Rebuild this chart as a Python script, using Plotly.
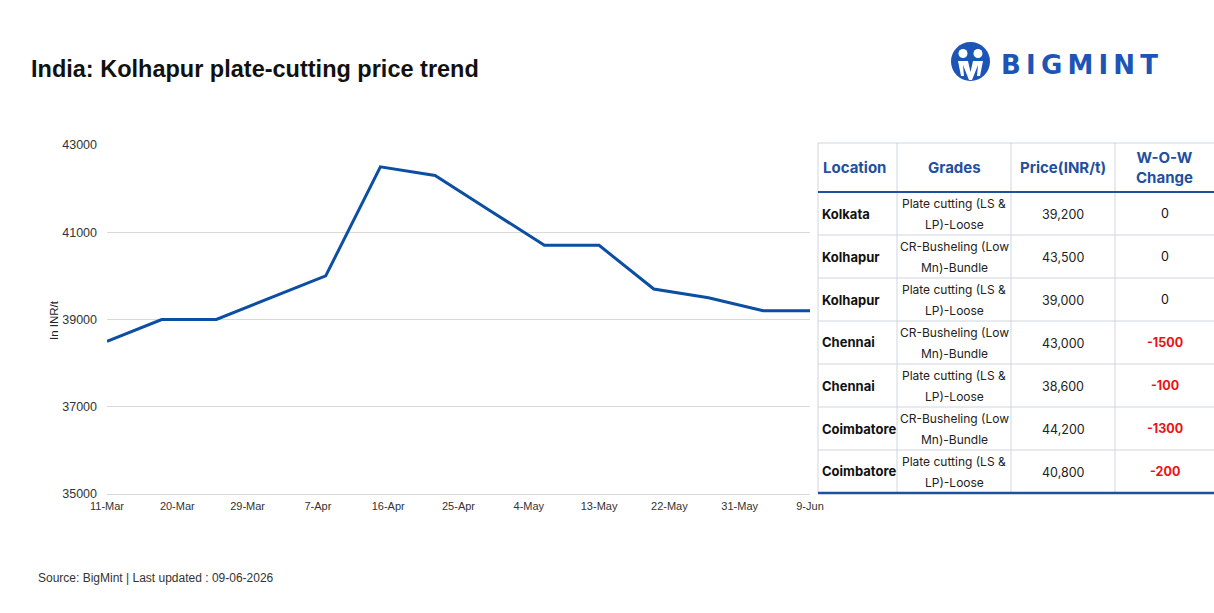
import plotly.graph_objects as go

# ---------------- data ----------------
dates = ["2026-03-11", "2026-03-18", "2026-03-25", "2026-04-01", "2026-04-08",
         "2026-04-15", "2026-04-22", "2026-04-29", "2026-05-06", "2026-05-13",
         "2026-05-20", "2026-05-27", "2026-06-03", "2026-06-09"]
prices = [38500, 39000, 39000, 39500, 40000, 42500, 42300, 41500, 40700, 40700,
          39700, 39500, 39200, 39200]

tick_dates = ["2026-03-11", "2026-03-20", "2026-03-29", "2026-04-07", "2026-04-16",
              "2026-04-25", "2026-05-04", "2026-05-13", "2026-05-22", "2026-05-31",
              "2026-06-09"]
tick_labels = ["11-Mar", "20-Mar", "29-Mar", "7-Apr", "16-Apr", "25-Apr",
               "4-May", "13-May", "22-May", "31-May", "9-Jun"]
y_ticks = [35000, 37000, 39000, 41000, 43000]

tbl_header = ["Location", "Grades", "Price(INR/t)", "W-O-W<br>Change"]
tbl_location = ["Kolkata", "Kolhapur", "Kolhapur", "Chennai", "Chennai",
                "Coimbatore", "Coimbatore"]
tbl_grades = [("Plate cutting (LS &", "LP)-Loose"),
              ("CR-Busheling (Low", "Mn)-Bundle"),
              ("Plate cutting (LS &", "LP)-Loose"),
              ("CR-Busheling (Low", "Mn)-Bundle"),
              ("Plate cutting (LS &", "LP)-Loose"),
              ("CR-Busheling (Low", "Mn)-Bundle"),
              ("Plate cutting (LS &", "LP)-Loose")]
tbl_price = ["39,200", "43,500", "39,000", "43,000", "38,600", "44,200", "40,800"]
tbl_change = [0, 0, 0, -1500, -100, -1300, -200]

# ---------------- layout helpers ----------------
W, H = 1214, 613
def px(x):
    return x / W
def py(y):
    return 1 - y / H

BLUE = "#0b4ea2"
HDR_BLUE = "#1f50a0"
FONT = "Liberation Sans, Arial, sans-serif"
TFONT = "Inter, Roboto, sans-serif"

fig = go.Figure()
fig.add_trace(go.Scatter(x=dates, y=prices, mode="lines",
                         line=dict(color=BLUE, width=3), hoverinfo="x+y",
                         showlegend=False))

annotations = []
shapes = []

# title
annotations.append(dict(x=px(29), y=py(69), xref="paper", yref="paper",
                        text="<b>India: Kolhapur plate-cutting price trend</b>",
                        showarrow=False, xanchor="left", yanchor="middle",
                        font=dict(family=FONT, size=23.5, color="#111111")))
# y axis title
annotations.append(dict(x=px(54), y=py(320), xref="paper", yref="paper",
                        text="In INR/t", textangle=-90, showarrow=False,
                        xanchor="center", yanchor="middle",
                        font=dict(family=FONT, size=11.5, color="#222222")))
# footer
annotations.append(dict(x=px(36), y=py(578), xref="paper", yref="paper",
                        text="Source: BigMint | Last updated : 09-06-2026",
                        showarrow=False, xanchor="left", yanchor="middle",
                        font=dict(family=FONT, size=12, color="#333333")))

# logo
LOGO = "#1c55b5"
shapes.append(dict(type="circle", xref="paper", yref="paper",
                   x0=px(951), x1=px(990), y0=py(81), y1=py(42),
                   fillcolor=LOGO, line=dict(width=0)))
for cx in (963, 978):
    shapes.append(dict(type="circle", xref="paper", yref="paper",
                       x0=px(cx - 4.5), x1=px(cx + 4.5), y0=py(58), y1=py(49),
                       fillcolor="white", line=dict(width=0)))
shapes.append(dict(type="path", xref="paper", yref="paper",
                   path=(f"M {px(958)},{py(61)} L {px(968)},{py(61)} L {px(970.5)},{py(72)} "
                         f"L {px(973)},{py(61)} L {px(983)},{py(61)} L {px(980)},{py(76)} "
                         f"L {px(977)},{py(76)} L {px(978)},{py(65)} L {px(972)},{py(80)} "
                         f"L {px(969)},{py(80)} L {px(963)},{py(65)} L {px(964)},{py(76)} "
                         f"L {px(961)},{py(76)} Z"),
                   fillcolor="white", line=dict(width=0)))
annotations.append(dict(x=px(999), y=py(65), xref="paper", yref="paper",
                        text="<b>B\u2009I\u2009G\u2009M\u2009I\u2009N\u2009T</b>",
                        showarrow=False, xanchor="left", yanchor="middle",
                        font=dict(family="DejaVu Sans, sans-serif", size=26, color=LOGO)))

# ---------------- table ----------------
col_edges = [818, 897, 1011, 1115, 1214]
top, hdr_bot = 143, 192
row_h = 43
n = len(tbl_location)
bottom = hdr_bot + n * row_h
GRID = "#cfd6e0"

shapes.append(dict(type="line", xref="paper", yref="paper", x0=px(818), x1=px(1214),
                   y0=py(top), y1=py(top), line=dict(color=GRID, width=1)))
for i in range(1, n):
    yy = hdr_bot + i * row_h
    shapes.append(dict(type="line", xref="paper", yref="paper", x0=px(818), x1=px(1214),
                       y0=py(yy), y1=py(yy), line=dict(color=GRID, width=1)))
for xe in col_edges[:-1]:
    shapes.append(dict(type="line", xref="paper", yref="paper", x0=px(xe), x1=px(xe),
                       y0=py(top), y1=py(bottom), line=dict(color=GRID, width=1)))
shapes.append(dict(type="line", xref="paper", yref="paper", x0=px(818), x1=px(1214),
                   y0=py(hdr_bot), y1=py(hdr_bot), line=dict(color=HDR_BLUE, width=2)))
shapes.append(dict(type="line", xref="paper", yref="paper", x0=px(818), x1=px(1214),
                   y0=py(bottom), y1=py(bottom), line=dict(color=HDR_BLUE, width=2.5)))

centers = [(col_edges[i] + col_edges[i + 1]) / 2 for i in range(4)]
hdr_y = (top + hdr_bot) / 2
for i, h in enumerate(tbl_header):
    if i == 0:
        xa, anc = 821, "left"
    else:
        xa, anc = centers[i], "center"
    annotations.append(dict(x=px(xa), y=py(hdr_y), xref="paper", yref="paper",
                            text=f"<b>{h}</b>", showarrow=False, xanchor=anc,
                            yanchor="middle", align="center",
                            font=dict(family=TFONT, size=15, color=HDR_BLUE)))

for r in range(n):
    yc = hdr_bot + r * row_h + row_h / 2
    annotations.append(dict(x=px(820), y=py(yc), xref="paper", yref="paper",
                            text=f"<b>{tbl_location[r]}</b>", showarrow=False,
                            xanchor="left", yanchor="middle",
                            font=dict(family=TFONT, size=13, color="#111111")))
    g1, g2 = tbl_grades[r]
    annotations.append(dict(x=px(centers[1]), y=py(yc - 10), xref="paper", yref="paper",
                            text=g1, showarrow=False, xanchor="center", yanchor="middle",
                            font=dict(family=TFONT, size=12, color="#222222")))
    annotations.append(dict(x=px(centers[1]), y=py(yc + 11), xref="paper", yref="paper",
                            text=g2, showarrow=False, xanchor="center", yanchor="middle",
                            font=dict(family=TFONT, size=12, color="#222222")))
    annotations.append(dict(x=px(centers[2]), y=py(yc + 1), xref="paper", yref="paper",
                            text=tbl_price[r], showarrow=False, xanchor="center",
                            yanchor="middle",
                            font=dict(family=TFONT, size=12.5, color="#222222")))
    ch = tbl_change[r]
    annotations.append(dict(x=px(centers[3]), y=py(yc), xref="paper", yref="paper",
                            text=(f"<b>{ch}</b>" if ch < 0 else f"{ch}"),
                            showarrow=False, xanchor="center", yanchor="middle",
                            font=dict(family=TFONT, size=12.5,
                                      color=("#ee1111" if ch < 0 else "#111111"))))

fig.update_layout(
    width=W, height=H,
    margin=dict(l=0, r=0, t=0, b=0, pad=0, autoexpand=False),
    paper_bgcolor="white", plot_bgcolor="white",
    xaxis=dict(domain=[px(107), px(810)], type="date",
               range=["2026-03-11", "2026-06-09"],
               tickvals=tick_dates, ticktext=tick_labels,
               showgrid=False, showline=True, linecolor="#d9d9d9", linewidth=1,
               ticks="", ticklabelstandoff=2, automargin=False,
               tickfont=dict(family="Liberation Sans Narrow, Arial Narrow, Liberation Sans, sans-serif",
                             size=11, color="#333333"),
               zeroline=False, fixedrange=True),
    yaxis=dict(domain=[py(494), py(145)], range=[35000, 43000],
               tickvals=y_ticks, ticktext=[str(v) for v in y_ticks],
               showgrid=True, gridcolor="#d9d9d9", gridwidth=1,
               showline=False, zeroline=False, ticks="", automargin=False,
               ticklabelstandoff=9,
               tickfont=dict(family=FONT, size=12.5, color="#333333"),
               fixedrange=True),
    annotations=annotations,
    shapes=shapes,
)

fig.write_html("out.html",
               post_script="document.body.style.margin='0';document.body.style.overflow='hidden';")
